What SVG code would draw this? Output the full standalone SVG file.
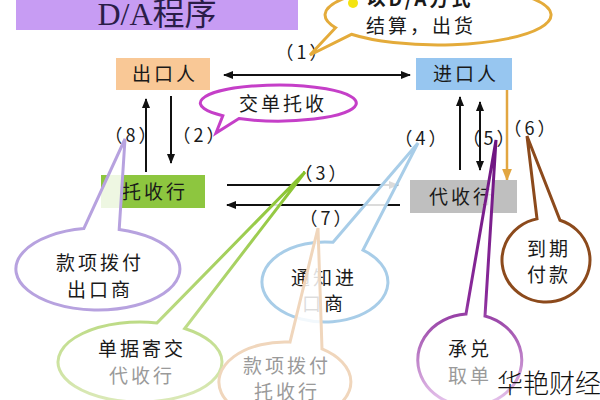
<svg xmlns="http://www.w3.org/2000/svg" width="600" height="400" viewBox="0 0 600 400">
<defs>
<marker id="ah" viewBox="0 0 10 10" refX="9" refY="5" markerWidth="5" markerHeight="5" orient="auto-start-reverse"><path d="M0,1 L10,5 L0,9 Z" fill="#111"/></marker>
<marker id="aho" viewBox="0 0 10 10" refX="9" refY="5" markerWidth="5" markerHeight="5" orient="auto"><path d="M0,1 L10,5 L0,9 Z" fill="#e2a640"/></marker>
<linearGradient id="gGreen" x1="0" y1="0" x2="0" y2="1"><stop offset="0" stop-color="#86c22a"/><stop offset="1" stop-color="#dbe9b8"/></linearGradient>
<linearGradient id="gPurple" x1="0" y1="0" x2="0" y2="1"><stop offset="0" stop-color="#6c1480"/><stop offset="0.6" stop-color="#8a2a9a"/><stop offset="1" stop-color="#e8c8ee"/></linearGradient>
</defs>
<style>
.t{font-family:"Noto Sans CJK SC","Liberation Sans",sans-serif;font-size:19px;fill:#1a1a1a;text-anchor:middle;letter-spacing:3px}
.g{fill:#9a9a9a}
.lb{font-family:"Noto Sans CJK SC","Liberation Sans",sans-serif;font-size:18px;fill:#1a1a1a;text-anchor:middle;letter-spacing:3px}
.ln{stroke:#111;stroke-width:2;fill:none}
.bub{fill:#fff;stroke-width:3;fill-opacity:0.85}
</style>
<rect width="600" height="400" fill="#fff"/>
<g id="title">
<rect x="16" y="0" width="282" height="30" fill="#c79cf3"/>
<text x="157" y="25" font-family="Liberation Serif,Noto Sans CJK SC,serif" font-size="32" fill="#2a1d48" text-anchor="middle">D/A程序</text>
</g>
<g id="connectors">
<line class="ln" x1="410" y1="75" x2="224" y2="75" marker-start="url(#ah)" marker-end="url(#ah)"/>
<line class="ln" x1="146" y1="172" x2="146" y2="99" marker-end="url(#ah)"/>
<line class="ln" x1="171" y1="96" x2="171" y2="163" marker-end="url(#ah)"/>
<line class="ln" x1="227" y1="185" x2="398" y2="185" marker-end="url(#ah)"/>
<line class="ln" x1="400" y1="205" x2="227" y2="205" marker-end="url(#ah)"/>
<line class="ln" x1="460" y1="170" x2="460" y2="97" marker-end="url(#ah)"/>
<line class="ln" x1="480" y1="102" x2="480" y2="170" marker-start="url(#ah)" marker-end="url(#ah)"/>
<line x1="507" y1="90" x2="507" y2="180" stroke="#e2a640" stroke-width="2.5" marker-end="url(#aho)"/>
</g>
<g id="labels">
<text class="lb" x="303" y="59">（1）</text>
<text class="lb" x="132" y="142">（8）</text>
<text class="lb" x="200" y="142">（2）</text>
<text class="lb" x="322" y="180">（3）</text>
<text class="lb" x="327" y="225">（7）</text>
<text class="lb" x="422" y="145">（4）</text>
<text class="lb" x="490" y="145">（5）</text>
<text class="lb" x="531" y="135">（6）</text>
</g>
<g id="n-exporter">
<rect x="116" y="58" width="94" height="32" fill="#f9c896"/>
<text class="t" x="165" y="81">出口人</text>
</g>
<g id="n-importer">
<rect x="416" y="58" width="96" height="32" fill="#97c6f0"/>
<text class="t" x="466" y="81">进口人</text>
</g>
<g id="n-remitting">
<rect x="101" y="175" width="104" height="33" fill="#8dc63f"/>
<text class="t" x="155" y="199">托收行</text>
</g>
<g id="n-collecting">
<rect x="410" y="180" width="107" height="33" fill="#bfbfbf"/>
<text class="t" x="462" y="204">代收行</text>
</g>
<g id="b1">
<path class="bub" stroke="#e4ab3a" fill-opacity="1" d="M351.4,34.3 L310,55 L335.6,27.7 A113,30 0 1 1 351.4,34.3 Z"/>
<circle cx="353" cy="3" r="5" fill="#f4e410"/>
<text class="t" x="420" y="6" font-weight="bold">以D/A方式</text>
<text class="t" x="421" y="33">结算，出货</text>
</g>
<g id="b2">
<path class="bub" stroke="#c53fc8" fill-opacity="1" d="M239,118.6 L216,133 L222.8,115.7 A78,18 0 1 1 239,118.6 Z"/>
<text class="t" x="283" y="111">交单托收</text>
</g>
<g id="b8">
<path class="bub" stroke="#b7a2df" d="M83.8,228.6 L125,139 L119.2,229.4 A82,41 0 1 1 83.8,228.6 Z"/>
<text class="t" x="100" y="270">款项拨付</text>
<text class="t" x="100" y="297">出口商</text>
</g>
<g id="b3">
<path class="bub" stroke="url(#gGreen)" d="M157,322.9 L305,172 L184.7,328.5 A82,40 0 1 1 157,322.9 Z"/>
<text class="t" x="142" y="356">单据寄交</text>
<text class="t g" x="142" y="383">代收行</text>
</g>
<g id="b4">
<path class="bub" stroke="#a8cde8" d="M333,242.3 L418,143 L363,250.1 A63,40 0 1 1 333,242.3 Z"/>
<text class="t" x="324" y="285">通知进</text>
<text class="t" x="324" y="311">口商</text>
</g>
<g id="b7">
<path class="bub" stroke="#f0d6bc" d="M290,342.1 L318,228 L322,348.9 A66,40 0 1 1 290,342.1 Z"/>
<text class="t g" x="287" y="373">款项拨付</text>
<text class="t g" x="287" y="399">托收行</text>
</g>
<g id="b5">
<path class="bub" stroke="url(#gPurple)" d="M466,314.1 L496,140 L485,316 A52,46 0 1 1 466,314.1 Z"/>
<text class="t" x="470" y="356">承兑</text>
<text class="t g" x="470" y="383">取单</text>
</g>
<g id="b6">
<path class="bub" stroke="#8c4a1c" d="M537,218.9 L527,136 L560,220.2 A44,42 0 1 1 537,218.9 Z"/>
<text class="t" x="549" y="256">到期</text>
<text class="t" x="549" y="282">付款</text>
</g>
<text x="549" y="393" font-family="Noto Sans CJK SC,sans-serif" font-size="26" font-weight="300" fill="#111" text-anchor="middle">华艳财经</text>
</svg>
